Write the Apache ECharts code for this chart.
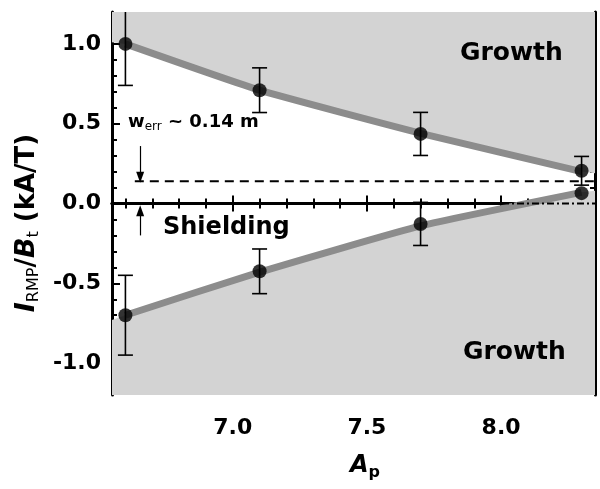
<!DOCTYPE html>
<html><head><meta charset="utf-8">
<script src="https://cdn.jsdelivr.net/npm/echarts@6/dist/echarts.min.js"></script>
<style>html,body{margin:0;padding:0;background:#fff}#c{width:600px;height:489px}</style>
</head><body><div id="c"></div>
<script>
// ---- data ----
const xRange = [6.55, 8.35];
const yRange = [-1.2, 1.2];
const xMajor = [7.0, 7.5, 8.0];
const xMinor = [6.6, 6.7, 6.8, 6.9, 7.1, 7.2, 7.3, 7.4, 7.6, 7.7, 7.8, 7.9, 8.1, 8.2, 8.3];
const yMajor = [-1.0, -0.5, 0.0, 0.5, 1.0];
const yMinor = [-1.1, -0.9, -0.8, -0.7, -0.6, -0.4, -0.3, -0.2, -0.1, 0.1, 0.2, 0.3, 0.4, 0.6, 0.7, 0.8, 0.9, 1.1];

const ap = [6.6, 7.1, 7.7, 8.3];
const upperVal = [1.00, 0.71, 0.436, 0.205];
const upperErr = [0.26, 0.14, 0.135, 0.09];
const lowerVal = [-0.70, -0.425, -0.128, 0.065];
const lowerErr = [0.25, 0.14, 0.135, 0.0];

// fitted boundary curves (line drawn from 6.6 to 8.3, shading reaches the frame)
const upperCurveX = [6.6, 7.1, 7.7, 8.3];
const upperCurveY = [1.0, 0.71, 0.44, 0.20];
const lowerCurveX = [6.6, 7.1, 7.7, 8.3];
const lowerCurveY = [-0.70, -0.43, -0.14, 0.07];
const upperFillX = [6.55, 6.6, 7.1, 7.7, 8.3, 8.35];
const upperFillY = [1.01, 1.0, 0.71, 0.44, 0.20, 0.19];
const lowerFillX = [6.55, 6.6, 7.1, 7.7, 8.3, 8.35];
const lowerFillY = [-0.73, -0.70, -0.43, -0.14, 0.07, 0.08];

const wErr = 0.14;
const wErrStartX = 6.635;
const arrowX = 6.655;
const downArrowY = [0.36, 0.165];
const upArrowY = [-0.20, -0.045];

// ---- chart ----
const FONT = '"DejaVu Sans", sans-serif';
const SHADE = '#d3d3d3';
const pairs = (xs, ys) => xs.map((x, i) => [x, ys[i]]);

function xAxisDef(pos, ticks, len, showLine, showLabel) {
  return {
    type: 'value', min: xRange[0], max: xRange[1], position: pos,
    axisLine: { show: showLine, lineStyle: { color: '#000', width: 3 } },
    axisTick: { show: true, inside: true, length: len, customValues: ticks, lineStyle: { color: '#000', width: 2 } },
    axisLabel: showLabel ? { show: true, customValues: xMajor, formatter: v => v.toFixed(1), color: '#000',
      fontFamily: FONT, fontWeight: 'bold', fontSize: 22, margin: 22 } : { show: false },
    splitLine: { show: false }, splitArea: { show: false }
  };
}
function yAxisDef(pos, ticks, len, showLine, showLabel) {
  return {
    type: 'value', min: yRange[0], max: yRange[1], position: pos,
    axisLine: { show: showLine, lineStyle: { color: '#000', width: 3 } },
    axisTick: { show: true, inside: true, length: len, customValues: ticks, lineStyle: { color: '#000', width: 2 } },
    axisLabel: showLabel ? { show: true, customValues: yMajor, formatter: v => v.toFixed(1), color: '#000',
      fontFamily: FONT, fontWeight: 'bold', fontSize: 22, margin: 11 } : { show: false },
    splitLine: { show: false }, splitArea: { show: false }
  };
}

// shaded "Growth" regions: above the upper boundary (to y max) and below the lower one (to y min)
function growthFill(params, api) {
  const which = api.value(0);
  const xs = which === 0 ? upperFillX : lowerFillX;
  const ys = which === 0 ? upperFillY : lowerFillY;
  const edge = which === 0 ? yRange[1] : yRange[0];
  const pts = xs.map((x, i) => api.coord([x, ys[i]]));
  pts.push(api.coord([xs[xs.length - 1], edge]));
  pts.push(api.coord([xs[0], edge]));
  return { type: 'polygon', shape: { points: pts }, style: { fill: SHADE, stroke: null } };
}

function errorBar(params, api) {
  const x = api.value(0), y = api.value(1), e = api.value(2);
  if (!e) return { type: 'group', children: [] };
  const cs = params.coordSys;
  const top = api.coord([x, y + e]);
  const bot = api.coord([x, y - e]);
  const children = [];
  const yTop = Math.max(top[1], cs.y);
  const yBot = Math.min(bot[1], cs.y + cs.height);
  const st = { stroke: '#000', lineWidth: 1.6, fill: null };
  children.push({ type: 'line', shape: { x1: top[0], y1: yTop, x2: top[0], y2: yBot }, style: st });
  const hw = 7.5;
  if (top[1] >= cs.y) children.push({ type: 'line', shape: { x1: top[0] - hw, y1: top[1], x2: top[0] + hw, y2: top[1] }, style: st });
  if (bot[1] <= cs.y + cs.height) children.push({ type: 'line', shape: { x1: bot[0] - hw, y1: bot[1], x2: bot[0] + hw, y2: bot[1] }, style: st });
  return { type: 'group', children };
}

const chart = echarts.init(document.getElementById('c'), null, { renderer: 'canvas' });
chart.setOption({
  animation: false,
  grid: { left: 112, right: 5, top: 12, bottom: 94 },
  xAxis: [
    xAxisDef('bottom', xMajor, 8, true, true),
    xAxisDef('bottom', xMinor, 5, false, false),
    xAxisDef('top', xMajor, 8, true, false),
    xAxisDef('top', xMinor, 5, false, false)
  ],
  yAxis: [
    yAxisDef('left', yMajor, 8, true, true),
    yAxisDef('left', yMinor, 5, false, false),
    yAxisDef('right', yMajor, 8, true, false),
    yAxisDef('right', yMinor, 5, false, false)
  ],
  series: [
    { type: 'custom', renderItem: growthFill, z: 1, silent: true, data: [[0], [1]] },
    { type: 'line', data: pairs(upperCurveX, upperCurveY), smooth: 0.15, symbol: 'none', z: 2,
      lineStyle: { width: 7, color: '#8c8c8c', cap: 'butt' } },
    { type: 'line', data: pairs(lowerCurveX, lowerCurveY), smooth: 0.15, symbol: 'none', z: 2,
      lineStyle: { width: 7, color: '#8c8c8c', cap: 'butt' } },
    { type: 'line', data: [[xRange[0], 0], [xRange[1], 0]], symbol: 'none', z: 3,
      lineStyle: { width: 2, color: '#000', type: [7, 3, 2, 3] } },
    { type: 'line', data: [[wErrStartX, wErr], [xRange[1], wErr]], symbol: 'none', z: 3,
      lineStyle: { width: 2, color: '#000', type: [9, 6] },
      markLine: {
        silent: true, symbol: ['none', 'triangle'], symbolSize: [8, 11],
        label: { show: false }, lineStyle: { color: '#000', width: 1.2, type: 'solid' },
        data: [
          [{ coord: [arrowX, downArrowY[0]] }, { coord: [arrowX, downArrowY[1]] }],
          [{ coord: [arrowX, upArrowY[0]] }, { coord: [arrowX, upArrowY[1]] }]
        ]
      } },
    { type: 'custom', renderItem: errorBar, z: 4,
      data: ap.map((x, i) => [x, upperVal[i], upperErr[i]]).concat(ap.map((x, i) => [x, lowerVal[i], lowerErr[i]])) },
    { type: 'scatter', symbol: 'circle', symbolSize: 14, z: 5, itemStyle: { color: '#000' },
      data: pairs(ap, upperVal).concat(pairs(ap, lowerVal)) }
  ],
  graphic: [
    { type: 'text', x: 460, y: 53, z: 10, style: { text: 'Growth', font: 'bold 25px ' + FONT, fill: '#000', align: 'left', verticalAlign: 'middle' } },
    { type: 'text', x: 463, y: 352, z: 10, style: { text: 'Growth', font: 'bold 25px ' + FONT, fill: '#000', align: 'left', verticalAlign: 'middle' } },
    { type: 'text', x: 163, y: 228, z: 10, style: { text: 'Shielding', font: 'bold 24px ' + FONT, fill: '#000', align: 'left', verticalAlign: 'middle' } },
    { type: 'text', x: 128, y: 122, z: 10, style: {
        text: '{m|w}{s|err}{m| ~ 0.14 m}', align: 'left', verticalAlign: 'middle',
        rich: {
          m: { fontFamily: FONT, fontWeight: 'bold', fontSize: 18, lineHeight: 22, color: '#000' },
          s: { fontFamily: FONT, fontSize: 12, lineHeight: 8, verticalAlign: 'bottom', color: '#000' }
        } } },
    { type: 'text', x: 27, y: 223, rotation: Math.PI / 2, z: 10, style: {
        text: '{i|I}{s|RMP}{n|/}{i|B}{s|t}{n| (kA/T)}', align: 'center', verticalAlign: 'middle',
        rich: {
          i: { fontFamily: FONT, fontWeight: 'bold', fontStyle: 'italic', fontSize: 27, lineHeight: 30, color: '#000' },
          n: { fontFamily: FONT, fontWeight: 'bold', fontSize: 26, lineHeight: 30, color: '#000' },
          s: { fontFamily: FONT, fontSize: 16, lineHeight: 16, verticalAlign: 'bottom', color: '#000' }
        } } },
    { type: 'text', x: 365, y: 466, z: 10, style: {
        text: '{i|A}{s|p}', align: 'center', verticalAlign: 'middle',
        rich: {
          i: { fontFamily: FONT, fontWeight: 'bold', fontStyle: 'italic', fontSize: 24, lineHeight: 30, color: '#000' },
          s: { fontFamily: FONT, fontWeight: 'bold', fontSize: 16, lineHeight: 16, verticalAlign: 'bottom', color: '#000' }
        } } }
  ]
});
</script></body></html>
